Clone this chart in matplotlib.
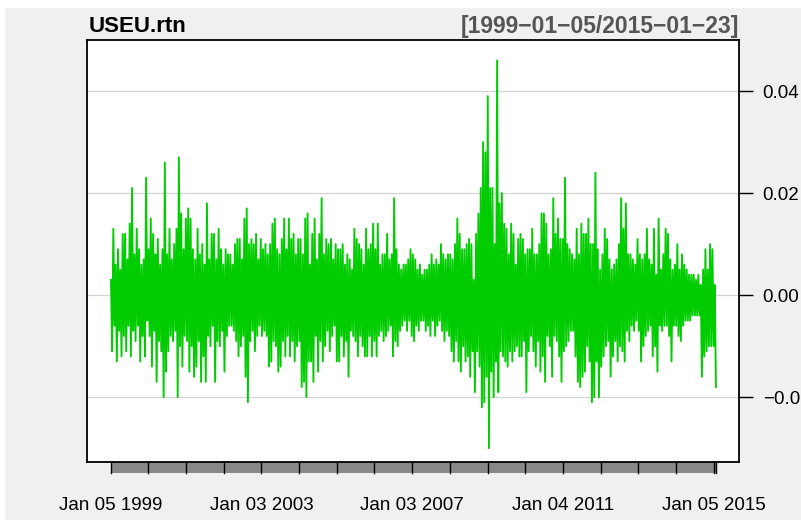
import numpy as np
import matplotlib.pyplot as plt
from matplotlib.patches import Rectangle
from matplotlib.transforms import blended_transform_factory
import datetime as dt

# daily USD/EUR log returns (units of 0.001), high/low pairs
rtn_1999 = [3,-11, 13,-6, 6,-13, 9,-7, 5,-12, 12,-8, 12,-11, 7,-6, 14,-12, 21,-7,
            8,-9, 13,-6, 9,-13, 6,-8, 7,-12, 23,-5, 9,-8, 15,-14, 12,-7, 8,-17,
            11,-9, 6,-11, 9,-20, 26,-15, 8,-11, 13,-8, 7,-9, 10,-7, 13,-20, 27,-10,
            16,-14, 9,-8, 15,-9, 17,-15, 15,-10, 9,-16, 7,-14, 13,-9, 8,-17, 10,-12]
rtn_2001 = [6,-17, 18,-8, 7,-10, 12,-6, 12,-17, 7,-9, 13,-10, 9,-7, 6,-15, 9,-8,
            8,-6, 8,-6, 6,-7, 10,-9, 11,-12, 11,-10, 7,-8, 15,-16, 17,-21, 10,-9,
            11,-7, 10,-11, 12,-8, 7,-6, 11,-8, 9,-7, 10,-8, 8,-14, 10,-13, 14,-9,
            15,-10, 9,-15, 8,-14, 11,-9, 15,-12, 9,-8, 15,-12, 11,-9, 12,-13, 8,-10,
            11,-9, 11,-18, 8,-17, 15,-20, 16,-13]
rtn_2004 = [6,-13, 12,-17, 15,-8, 7,-15, 12,-9, 19,-13, 8,-10, 11,-7, 10,-11, 11,-8,
            7,-6, 10,-13, 9,-13, 9,-8, 10,-12, 6,-9, 8,-16, 7,-7, 5,-8, 13,-9,
            11,-12, 10,-8, 9,-10, 6,-12, 13,-12, 9,-8, 10,-12, 14,-9, 9,-12, 14,-8,
            6,-7, 8,-9, 8,-8, 12,-7, 7,-6, 8,-12, 19,-9, 9,-10, 6,-7, 5,-6,
            6,-5, 6,-7, 7,-5, 9,-8, 8,-9]
rtn_2007 = [7,-6, 5,-7, 6,-5, 4,-5, 5,-7, 5,-6, 6,-8, 8,-5, 6,-8, 7,-6,
            6,-5, 10,-7, 8,-9, 7,-7, 8,-8, 8,-11, 7,-13, 10,-9, 15,-13, 12,-15,
            9,-10, 9,-13, 10,-12, 11,-16, 10,-11, 3,-19, 12,-11, 16,-14, 21,-22, 30,-21,
            28,-16, 39,-30, 21,-15, 21,-20, 10,-13, 46,-19, 18,-11, 20,-12, 14,-13, 13,-14,
            8,-11, 14,-13, 12,-11, 6,-10, 11,-12]
rtn_2010 = [12,-12, 11,-9, 8,-19, 9,-11, 9,-8, 13,-11, 8,-14, 8,-9, 10,-15, 16,-12,
            16,-17, 14,-8, 8,-10, 9,-16, 19,-8, 12,-9, 15,-12, 11,-17, 11,-11, 23,-10,
            10,-9, 9,-7, 8,-7, 7,-12, 13,-17, 8,-18, 14,-16, 12,-15, 12,-10, 15,-13,
            10,-21, 10,-20, 24,-13, 9,-20, 5,-14, 8,-12, 13,-10, 11,-9, 7,-16, 5,-12,
            6,-9, 7,-13, 10,-10]
rtn_2012 = [19,-11, 13,-13, 18,-7, 8,-9, 8,-6, 7,-7, 6,-5, 11,-7, 8,-13, 7,-10,
            8,-8, 13,-7, 7,-6, 6,-12, 13,-10, 4,-15, 15,-6, 5,-7, 8,-6, 13,-6,
            12,-8, 7,-13, 5,-6, 6,-6, 10,-8, 5,-9, 8,-6, 6,-5, 5,-5, 4,-5,
            4,-4, 4,-4, 3,-4, 4,-4, 2,-16, 5,-12, 9,-11, 5,-10, 10,-10, 9,-10,
            2,-18]

rtn = np.array(rtn_1999 + rtn_2001 + rtn_2004 + rtn_2007 + rtn_2010 + rtn_2012) / 1000.0
start = dt.date(1999, 1, 5)
end = dt.date(2015, 1, 23)
tick_dates = [dt.date(1999, 1, 5), dt.date(2003, 1, 3), dt.date(2007, 1, 3),
              dt.date(2011, 1, 4), dt.date(2015, 1, 5)]
yticks = [-0.02, 0.0, 0.02, 0.04]

n = len(rtn)
idx = np.arange(n)
def pos(d):
    return (d - start).days / (end - start).days * (n - 1)

plt.rcParams['font.family'] = ['Liberation Sans', 'DejaVu Sans']
fig = plt.figure(figsize=(8.01, 5.20), dpi=100)
fig.patch.set_facecolor('white')
fig.patches.append(Rectangle((5/801, 0), 1, 1 - 8/520, transform=fig.transFigure,
                             facecolor='#f0f0f0', edgecolor='none', zorder=-10))

ax = fig.add_axes([87/801, 58/520, 652/801, 422/520])
ax.set_facecolor('white')
ax.plot(idx, rtn, color='#00cc00', lw=1.35, zorder=3)
ax.set_xlim(-20.5, n - 1 + 19.7)
ax.set_ylim(-0.0327, 0.0500)
for yv in yticks:
    ax.axhline(yv, color='#d3d3d3', lw=0.9, zorder=1)
for s in ax.spines.values():
    s.set_linewidth(1.3)
ax.set_xticks([])
ax.yaxis.tick_right()
ax.set_yticks(yticks)
ax.set_yticklabels(['\u22120.02', '0.00', '0.02', '0.04'])
ax.tick_params(axis='y', direction='out', length=10, width=1, pad=7,
               labelsize=13.5, colors='black')

# gray bar of yearly minor ticks under the box
tr = blended_transform_factory(ax.transData, ax.transAxes)
ax.add_patch(Rectangle((0, -0.026), n - 1, 0.026, transform=tr, facecolor='#888888',
                       edgecolor='none', clip_on=False))
years = [start] + [dt.date(y, 1, 1) for y in range(2000, 2016)] + [end]
for d in years:
    ax.plot([pos(d), pos(d)], [-0.026, 0], transform=tr, color='black', lw=1,
            clip_on=False)
for d in tick_dates:
    ax.text(pos(d), -0.104, d.strftime('%b %d %Y'), transform=tr, ha='center',
            va='center', fontsize=13.5)

fig.text(89/801, 1 - 27/520, 'USEU.rtn', fontsize=16, fontweight='bold',
         ha='left', va='center')
fig.text(739/801, 1 - 27/520, '[1999\u221201\u221205/2015\u221201\u221223]', fontsize=16.5,
         fontweight='bold', color='#555555', ha='right', va='center')

plt.savefig('out.png', dpi=100)
